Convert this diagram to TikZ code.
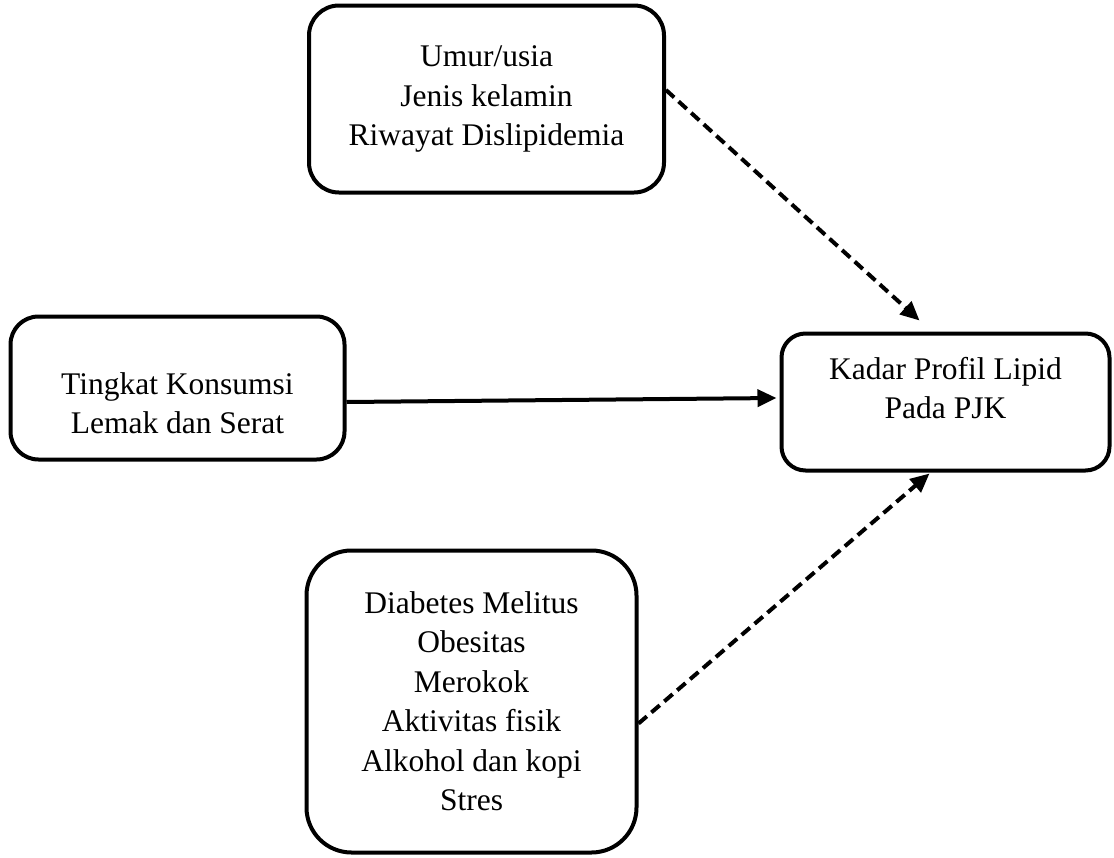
\documentclass[tikz,border=0pt]{standalone}
\usepackage{fontspec}
\setmainfont{Liberation Serif}
\usetikzlibrary{arrows.meta,calc}
\begin{document}
\begin{tikzpicture}[x=1pt,y=-1pt,
  box/.style={draw=black,line width=4pt,rounded corners=#1,inner sep=0pt},
  lbl/.style={align=center,font=\fontsize{31.5}{39.5}\selectfont,inner sep=0pt},
  conn/.style={line width=4pt,-{Triangle[length=19pt,width=17pt]}},
  dconn/.style={conn,dash pattern=on 11pt off 6pt}]
\useasboundingbox (0,0) rectangle (1114,857);
\node[box=30pt,minimum width=355pt,minimum height=187pt] (top) at (486.5,99) {};
\node[box=28pt,minimum width=334pt,minimum height=143pt] (left) at (177.5,388) {};
\node[box=24pt,minimum width=328pt,minimum height=137pt] (right) at (945.5,402) {};
\node[box=45pt,minimum width=330pt,minimum height=302pt] (bot) at (471.5,701.5) {};
\node[lbl] (ttop) at (486.5,99) {Umur/usia\\Jenis kelamin\\Riwayat Dislipidemia};
\node[lbl] (tleft) at (177.5,403) {Tingkat Konsumsi\\Lemak dan Serat};
\node[lbl] (tright) at (945.5,388) {Kadar Profil Lipid\\Pada PJK};
\node[lbl] (tbot) at (471.5,701) {Diabetes Melitus\\Obesitas\\Merokok\\Aktivitas fisik\\Alkohol dan kopi\\Stres};
\coordinate (a1) at ($(top.east)+(0,-9)$);
\coordinate (a2) at ($(right.north west)+(140,-11)$);
\coordinate (b1) at ($(left.east)+(0,14)$);
\coordinate (b2) at ($(right.west)+(-3,-4)$);
\coordinate (c1) at ($(bot.east)+(0,22)$);
\coordinate (c2) at ($(right.south west)+(150,1)$);
\draw[dconn] (a1) -- (a2);
\draw[conn] (b1) -- (b2);
\draw[dconn] (c1) -- (c2);
\end{tikzpicture}
\end{document}
